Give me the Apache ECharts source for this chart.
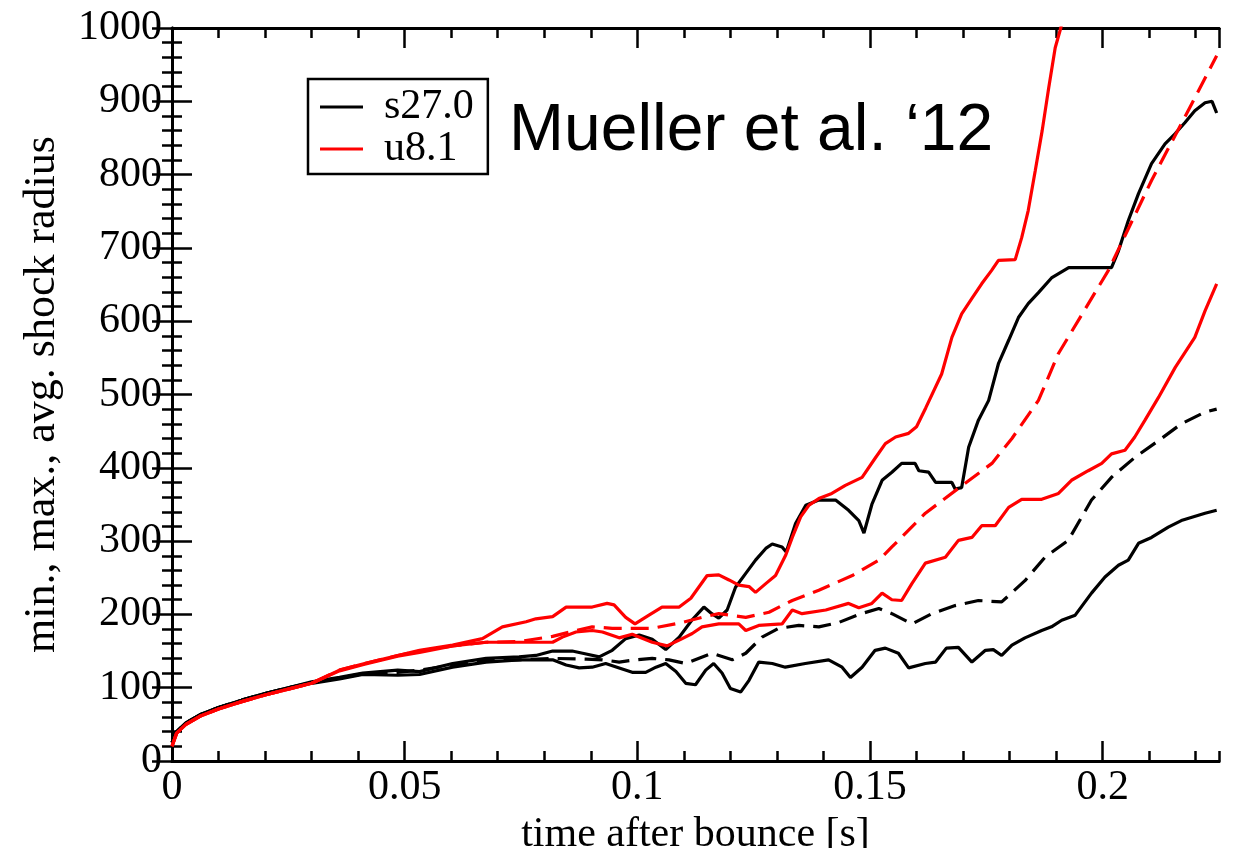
<!DOCTYPE html>
<html><head><meta charset="utf-8">
<script src="https://cdn.jsdelivr.net/npm/echarts@6/dist/echarts.min.js"></script>
<style>html,body{margin:0;padding:0;background:#fff}#c{width:1233px;height:848px}</style>
</head><body><div id="c"></div>
<script>
const xTicks = [0, 0.05, 0.1, 0.15, 0.2];
const yTicks = [0, 100, 200, 300, 400, 500, 600, 700, 800, 900, 1000];
const legendNames = ['s27.0', 'u8.1'];
const titleText = 'Mueller et al. \u201812';
const xName = 'time after bounce [s]';
const yName = 'min., max., avg. shock radius';

// s27.0 (black): max, min, avg
const s27_max = [[0,25],[0.001,40],[0.003,52],[0.006,63],[0.01,73],[0.015,83],[0.02,92],[0.025,100],[0.03,108],[0.036,114],[0.041,120],[0.0485,124],[0.0532,122],[0.0603,133],[0.0675,140],[0.0746,142],[0.0782,144],[0.0818,150],[0.086,150],[0.089,146],[0.0918,142],[0.0946,151],[0.0975,167],[0.1004,172],[0.1032,166],[0.1061,152],[0.109,169],[0.1117,192],[0.1143,210],[0.116,201],[0.1175,195],[0.1193,206],[0.1211,237],[0.1233,256],[0.1254,274],[0.1276,290],[0.129,296],[0.1311,292],[0.132,285],[0.134,324],[0.1362,349],[0.139,356],[0.1426,356],[0.1454,342],[0.1476,328],[0.1487,311],[0.1504,350],[0.1526,383],[0.1547,394],[0.1568,406],[0.1597,406],[0.1605,396],[0.1626,394],[0.1641,380],[0.1676,380],[0.1683,371],[0.1697,373],[0.1712,428],[0.1733,465],[0.1755,492],[0.1776,542],[0.1798,574],[0.1819,605],[0.184,624],[0.1862,639],[0.189,659],[0.1927,673],[0.2019,673],[0.2034,696],[0.2055,737],[0.2077,774],[0.2105,815],[0.2134,842],[0.2156,856],[0.2177,871],[0.2198,887],[0.222,898],[0.2235,900],[0.2245,884]];
const s27_min = [[0,25],[0.001,40],[0.003,52],[0.006,63],[0.01,73],[0.015,83],[0.02,92],[0.025,100],[0.03,106],[0.036,112],[0.041,118],[0.0485,117],[0.0532,118],[0.0603,128],[0.0675,135],[0.0746,138],[0.0818,138],[0.0847,131],[0.0875,127],[0.0903,128],[0.0932,133],[0.0961,127],[0.0989,121],[0.1018,121],[0.104,128],[0.1061,133],[0.1083,122],[0.1104,106],[0.1125,104],[0.1147,124],[0.1164,133],[0.1182,120],[0.12,99],[0.1222,94],[0.124,110],[0.1261,135],[0.129,133],[0.1318,128],[0.1361,133],[0.1411,138],[0.144,128],[0.1458,114],[0.1483,128],[0.1511,151],[0.1533,154],[0.1561,147],[0.1583,127],[0.1619,133],[0.1641,135],[0.1664,154],[0.169,155],[0.1719,135],[0.1748,151],[0.1765,152],[0.1783,144],[0.1805,158],[0.1833,168],[0.1869,178],[0.189,183],[0.1912,192],[0.1941,199],[0.1976,229],[0.2005,251],[0.2034,267],[0.2055,274],[0.2077,297],[0.2105,305],[0.2141,319],[0.2169,328],[0.222,338],[0.2245,342]];
const s27_avg = [[0,25],[0.001,40],[0.003,52],[0.006,63],[0.01,73],[0.015,83],[0.02,92],[0.025,100],[0.03,107],[0.036,113],[0.041,119],[0.0485,121],[0.0532,124],[0.0603,131],[0.0675,138],[0.0746,138],[0.0818,140],[0.089,139],[0.0925,138],[0.0961,135],[0.0997,138],[0.1032,140],[0.1068,138],[0.1104,133],[0.116,147],[0.1204,138],[0.1233,147],[0.1268,169],[0.1304,181],[0.1347,185],[0.139,183],[0.1433,189],[0.1476,200],[0.1519,208],[0.1547,201],[0.159,187],[0.1633,201],[0.1683,212],[0.1733,219],[0.1783,217],[0.1833,246],[0.1876,278],[0.1926,301],[0.1976,356],[0.2019,387],[0.2069,414],[0.212,437],[0.2169,460],[0.222,476],[0.2245,480]];

// u8.1 (red): max, min, avg
const u81_max = [[0,20],[0.001,38],[0.003,50],[0.006,61],[0.01,71],[0.015,81],[0.02,90],[0.025,98],[0.03,106],[0.036,124],[0.0414,133],[0.0485,144],[0.0532,151],[0.0603,158],[0.0667,167],[0.071,183],[0.0761,190],[0.0782,194],[0.0818,197],[0.0847,210],[0.0903,210],[0.0935,215],[0.095,213],[0.0975,196],[0.0995,187],[0.1025,199],[0.1053,210],[0.109,210],[0.1115,222],[0.115,253],[0.1175,254],[0.1197,247],[0.1218,240],[0.124,238],[0.1254,230],[0.1276,242],[0.1297,253],[0.1319,281],[0.1333,305],[0.1351,333],[0.1369,349],[0.139,358],[0.1418,365],[0.1447,376],[0.1483,387],[0.1511,413],[0.1533,433],[0.1555,442],[0.1583,447],[0.16,456],[0.162,482],[0.1654,528],[0.1676,578],[0.1697,610],[0.1719,631],[0.174,651],[0.1761,669],[0.1776,683],[0.1812,684],[0.1826,714],[0.184,751],[0.1855,805],[0.187,860],[0.1884,918],[0.1898,973],[0.191,1000],[0.193,1060]];
const u81_min = [[0,20],[0.001,38],[0.003,50],[0.006,61],[0.01,71],[0.015,81],[0.02,90],[0.025,98],[0.03,106],[0.036,123],[0.0414,132],[0.0485,143],[0.0532,148],[0.0603,157],[0.0675,162],[0.0818,162],[0.0839,169],[0.0868,176],[0.0903,178],[0.0925,176],[0.0961,168],[0.0989,173],[0.1032,162],[0.1064,157],[0.109,165],[0.1118,174],[0.1139,183],[0.1175,187],[0.1218,187],[0.1233,178],[0.1261,185],[0.1311,187],[0.1333,206],[0.1354,201],[0.1405,206],[0.1454,215],[0.1476,209],[0.1504,215],[0.1526,229],[0.1547,220],[0.1568,219],[0.159,242],[0.1619,270],[0.1662,278],[0.169,301],[0.1719,305],[0.174,321],[0.1769,321],[0.1798,346],[0.1826,357],[0.1869,357],[0.1905,365],[0.1933,383],[0.1969,396],[0.1998,406],[0.2019,419],[0.2048,424],[0.2069,442],[0.2091,465],[0.212,496],[0.2156,537],[0.2198,578],[0.222,614],[0.2245,651]];
const u81_avg = [[0,20],[0.001,38],[0.003,50],[0.006,61],[0.01,71],[0.015,81],[0.02,90],[0.025,98],[0.03,106],[0.036,124],[0.0414,133],[0.0485,144],[0.0532,150],[0.0603,157],[0.0675,162],[0.0746,163],[0.0818,170],[0.0868,178],[0.0903,183],[0.0946,181],[0.0989,181],[0.1032,181],[0.109,188],[0.1139,196],[0.1175,201],[0.1233,196],[0.1283,203],[0.1333,219],[0.139,233],[0.1462,253],[0.1519,274],[0.1547,292],[0.1619,338],[0.169,372],[0.1762,406],[0.1805,440],[0.1862,492],[0.1905,556],[0.2012,669],[0.2105,792],[0.2191,896],[0.2245,962]];

const SERIF = 'Liberation Serif, Times New Roman, serif';
const chart = echarts.init(document.getElementById('c'), null, {renderer: 'canvas'});

function mk(name, data, color, dashed) {
  return {
    name: name, type: 'line', data: data, xAxisIndex: 0, yAxisIndex: 0,
    symbol: 'none', showSymbol: false, clip: true, silent: true,
    lineStyle: {color: color, width: 3.2, type: dashed ? [18, 9] : 'solid'},
    itemStyle: {color: color}
  };
}
function fmt(v) { return String(Math.round(v * 1000) / 1000); }

const axisLineStyle = {show: true, lineStyle: {color: '#000', width: 3}};
function xAx(pos, interval, len, labels) {
  return {
    type: 'value', position: pos, min: 0, max: 0.225, interval: interval,
    axisLine: axisLineStyle,
    axisTick: {show: true, inside: true, length: len, lineStyle: {color: '#000', width: 2.5}},
    axisLabel: labels ? {show: true, showMaxLabel: false, margin: 6, fontFamily: SERIF, fontSize: 42, color: '#000',
      formatter: function (v) { return xTicks.some(t => Math.abs(t - v) < 1e-9) ? fmt(v) : ''; }} : {show: false},
    splitLine: {show: false},
    name: labels ? xName : '', nameLocation: 'middle', nameGap: 42,
    nameTextStyle: {fontFamily: SERIF, fontSize: 42, color: '#000'}
  };
}
function yAx(pos, labels) {
  return {
    type: 'value', position: pos, min: 0, max: 1000, interval: 100,
    axisLine: axisLineStyle,
    axisTick: {show: true, inside: true, length: 20, lineStyle: {color: '#000', width: 2.5}},
    minorTick: {show: true, splitNumber: 5, length: 10, lineStyle: {color: '#000', width: 2.5}},
    axisLabel: labels ? {show: true, margin: 10, fontFamily: SERIF, fontSize: 42, color: '#000',
      formatter: function (v) { return yTicks.indexOf(v) >= 0 ? String(v) : ''; }} : {show: false},
    splitLine: {show: false}, minorSplitLine: {show: false},
    name: labels ? yName : '', nameLocation: 'middle', nameGap: 108, nameRotate: 90,
    nameTextStyle: {fontFamily: SERIF, fontSize: 44, color: '#000'}
  };
}

chart.setOption({
  animation: false,
  backgroundColor: '#fff',
  grid: {left: 172, right: 14, top: 28, bottom: 87, containLabel: false, outerBoundsMode: 'none'},
  title: {text: titleText, left: 509, top: 99, padding: 0,
    textStyle: {fontFamily: 'Liberation Sans, Arial, sans-serif', fontSize: 66, fontWeight: 'normal', color: '#000'}},
  legend: {
    orient: 'vertical', left: 308, top: 79, data: legendNames, icon: 'rect',
    itemWidth: 43, itemHeight: 3, itemGap: 0, padding: [7, 14, 4, 12],
    borderColor: '#000', borderWidth: 2.5, selectedMode: false,
    textStyle: {fontFamily: SERIF, fontSize: 42, color: '#000', lineHeight: 38, padding: [0, 0, 0, 16]}
  },
  xAxis: [xAx('bottom', 0.05, 20, true), xAx('bottom', 0.01, 10, false), xAx('top', 0.05, 20, false), xAx('top', 0.01, 10, false)],
  yAxis: [yAx('left', true), yAx('right', false)],
  series: [
    mk('s27.0', s27_max, '#000', false),
    mk('s27.0', s27_min, '#000', false),
    mk('s27.0', s27_avg, '#000', true),
    mk('u8.1', u81_max, '#ff0000', false),
    mk('u8.1', u81_min, '#ff0000', false),
    mk('u8.1', u81_avg, '#ff0000', true)
  ]
});
</script>
</body></html>
